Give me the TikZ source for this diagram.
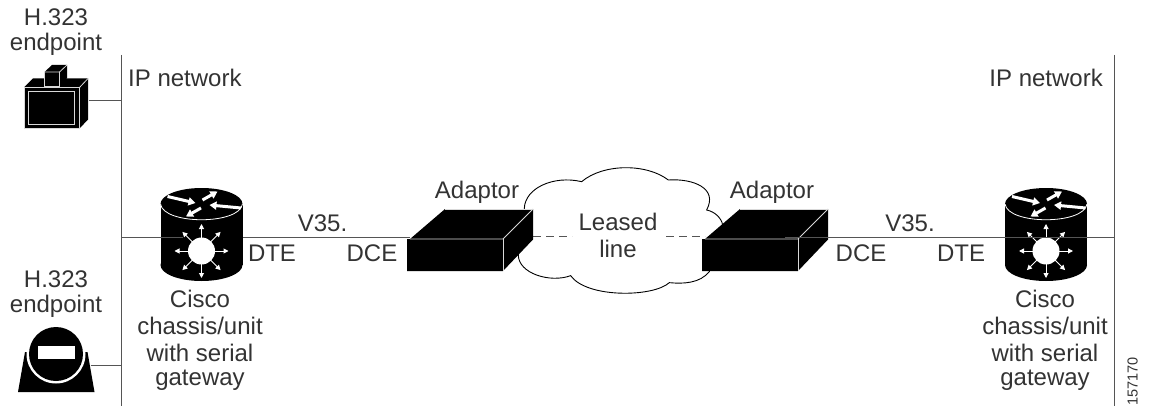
\documentclass[tikz,border=0pt]{standalone}
\usepackage{fontspec}
\setmainfont{Liberation Sans}
\usetikzlibrary{arrows.meta}
\definecolor{ink}{HTML}{333333}
\definecolor{wire}{HTML}{555555}
\tikzset{
  x=1pt,y=-1pt,
  lbl/.style={font=\fontsize{24}{27}\selectfont,text=ink,inner sep=0pt,align=center},
  wireline/.style={draw=wire,line width=1pt},
  dashwire/.style={draw=wire,line width=1pt,dash pattern=on 8pt off 5pt},
  edgewhite/.style={draw=white!85!black,line width=0.8pt},
  toparrow/.style={draw=white,line width=3pt,-{Triangle[length=7pt,width=8pt]}},
  stararrow/.style={draw=white,line width=1pt,-{Triangle[length=5pt,width=5pt]}},
  pics/router/.style={code={
    \fill[black] (-41,-47) rectangle (41,14);
    \fill[black] (0,-47) ellipse[x radius=41,y radius=16];
    \fill[black] (0,14) ellipse[x radius=41,y radius=16];
    \draw[white,line width=0.8pt] (-41,-47) .. controls (-38,-26) and (38,-26) .. (41,-47);
    \fill[white] (0,0) circle[radius=13.5];
    \foreach \a in {0,45,...,315}{\draw[stararrow] (\a:12) -- (\a:27);}
    \draw[toparrow] (-34,-54.5) -- (-6,-48);
    \draw[toparrow] (1,-51) -- (16,-59.5);
    \draw[toparrow] (39.5,-43) -- (8,-46);
    \draw[toparrow] (-0.5,-43) -- (-15.5,-34.5);
  }},
  pics/adaptor/.style={code={
    \fill[black] (0,0) -- (0,32) -- (96,32) -- (126,0.5) -- (126,-30) -- (38,-30) -- (3,0) -- cycle;
    \draw[edgewhite] (3,0) -- (96,0) -- (126,-30);
    \draw[edgewhite] (96,0) -- (96,32);
    \draw[edgewhite] (38,-30) -- (126,-30);
  }},
}
\begin{document}
\begin{tikzpicture}
\useasboundingbox (0,0) rectangle (1150,406);
\fill[white] (0,0) rectangle (1150,406);
% anchors
\coordinate (ltop) at (121,55);
\coordinate (lbot) at (121,406);
\coordinate (rtop) at (1114,55);
\coordinate (rbot) at (1114,406);
\coordinate (ltap1) at (121,100.5);
\coordinate (ltap2) at (121,365.5);
\coordinate (ltap3) at (121,237);
\coordinate (rtap3) at (1114,237);
\coordinate (ep1) at (89,100.5);
\coordinate (ep2) at (90.5,365.5);
\coordinate (r1in) at (183,237);
\coordinate (r1out) at (243,237);
\coordinate (a1in) at (410,237);
\coordinate (a1out) at (533,236.5);
\coordinate (c1) at (572,236.5);
\coordinate (c2) at (666,236.5);
\coordinate (a2in) at (705,236.5);
\coordinate (a2out) at (785,237);
\coordinate (r2in) at (1030,237);
% cloud
\begin{scope}[shift={(390,160)},x=0.3333pt,y=-0.3333pt]
\draw[black,line width=0.9pt,fill=white] (403,145)
  .. controls (405,85) and (490,45) .. (575,65)
  .. controls (640,10) and (770,10) .. (835,60)
  .. controls (910,55) and (985,85) .. (950,150)
  .. controls (975,155) and (995,175) .. (998,195)
  -- (958,335)
  .. controls (930,370) and (880,372) .. (838,368)
  .. controls (790,412) and (590,415) .. (542,347)
  .. controls (480,370) and (385,340) .. (385,285)
  -- cycle;
\end{scope}
% wires
\draw[wireline] (ltop) -- (lbot);
\draw[wireline] (rtop) -- (rbot);
\draw[wireline] (ep1) -- (ltap1);
\draw[wireline] (ep2) -- (ltap2);
\draw[dashwire] (a1out) -- (c1);
\draw[dashwire] (c2) -- (a2in);
% endpoint 1
\fill[black] (24,87.5) -- (24,128.5) -- (79.5,128.5) -- (88,119.5) -- (88,78.5) -- (33,78.5) -- cycle;
\draw[edgewhite] (24,87.5) -- (79.5,87.5) -- (88,78.5);
\draw[edgewhite] (79.5,87.5) -- (79.5,128.5);
\draw[edgewhite] (24,87.5) -- (24,128.5) -- (79.5,128.5);
\draw[edgewhite] (28.5,91.5) rectangle (74.5,124);
\fill[black] (44.5,72) -- (44.5,86) -- (59.5,86) -- (67,78) -- (67,65) -- (52,65) -- cycle;
\draw[edgewhite] (44.5,72) -- (59.5,72) -- (67,65);
\draw[edgewhite] (59.5,72) -- (59.5,86);
\draw[edgewhite] (44.5,72) -- (44.5,86) -- (59.5,86);
% endpoint 2
\fill[black] (25,352) -- (18,392) -- (94.5,392) -- (87.5,352) -- cycle;
\fill[white] (56,354) circle[radius=29.5];
\fill[black] (56,354) circle[radius=27];
\fill[white] (37.7,346) rectangle (75.3,359);
% routers
\draw[wireline] (ltap3) -- (r1in);
\pic at (201.5,251) {router};
\draw[wireline] (r1in) -- (ltap3);
\draw[wireline] (r1out) -- (a1in);
\pic at (1046,251) {router};
\draw[wireline] (r2in) -- (rtap3);
% adaptors
\pic at (407,239) {adaptor};
\pic at (702,239) {adaptor};
\draw[wireline,draw=wire] (a2out) -- (r2in);
% labels
\node[lbl] (t1) at (56,17) {H.323};
\node[lbl] (t2) at (56,44) {endpoint};
\node[lbl,anchor=west] (ip1) at (128,78) {IP network};
\node[lbl,anchor=east] (ip2) at (1103,78) {IP network};
\node[lbl] (t3) at (56,279) {H.323};
\node[lbl] (t4) at (56,306) {endpoint};
\node[lbl] (ca1) at (200,299) {Cisco};
\node[lbl] (ca2) at (200,326) {chassis/unit};
\node[lbl] (ca3) at (200,353) {with serial};
\node[lbl] (ca4) at (200,380) {gateway};
\node[lbl] (cb1) at (1045,299) {Cisco};
\node[lbl] (cb2) at (1045,326) {chassis/unit};
\node[lbl] (cb3) at (1045,353) {with serial};
\node[lbl] (cb4) at (1045,380) {gateway};
\node[lbl] (ad1) at (477,192) {Adaptor};
\node[lbl] (ad2) at (772,192) {Adaptor};
\node[lbl] (ll1) at (618,222) {Leased};
\node[lbl] (ll2) at (618,249) {line};
\node[lbl] (v1) at (322.5,223) {V35.};
\node[lbl] (v2) at (910,223) {V35.};
\node[lbl] (dte1) at (272,253) {DTE};
\node[lbl] (dce1) at (372,253) {DCE};
\node[lbl] (dce2) at (861,253) {DCE};
\node[lbl] (dte2) at (961,253) {DTE};
\node[font=\fontsize{14.5}{15}\selectfont,text=ink,inner sep=0pt,rotate=90,anchor=east] (fig) at (1132.5,357) {157170};
\end{tikzpicture}
\end{document}
